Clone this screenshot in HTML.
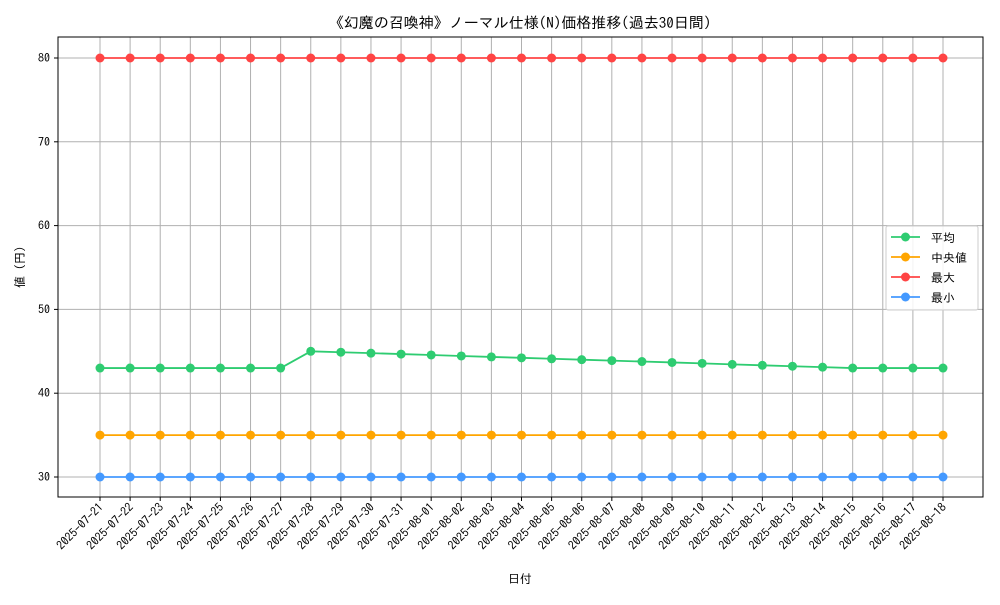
<!DOCTYPE html>
<html><head><meta charset="utf-8">
<style>
body{margin:0;background:#fff;}
svg text{font-family:"IPAGothic","Noto Sans CJK JP",sans-serif;fill:#000;}
</style></head>
<body>
<svg id="chart" width="1000" height="600" viewBox="0 0 1000 600" xmlns="http://www.w3.org/2000/svg">
<rect width="1000" height="600" fill="#fff"/>
<text x="520" y="28" font-size="15" text-anchor="middle">《幻魔の召喚神》ノーマル仕様(N)価格推移(過去30日間)</text>
<g id="grid"></g>
<g id="xticks"></g>
<g id="yticks"></g>
<g id="series"></g>
<rect x="58" y="37" width="925" height="460" fill="none" stroke="#000" stroke-width="1"/>
<text x="520" y="583" font-size="12" text-anchor="middle">日付</text>
<text x="0" y="0" font-size="12" text-anchor="middle" transform="translate(24,267) rotate(-90)">値 (円)</text>
<g id="legend"></g>
</svg>
<script>
const dates=["2025-07-21","2025-07-22","2025-07-23","2025-07-24","2025-07-25","2025-07-26","2025-07-27","2025-07-28","2025-07-29","2025-07-30","2025-07-31","2025-08-01","2025-08-02","2025-08-03","2025-08-04","2025-08-05","2025-08-06","2025-08-07","2025-08-08","2025-08-09","2025-08-10","2025-08-11","2025-08-12","2025-08-13","2025-08-14","2025-08-15","2025-08-16","2025-08-17","2025-08-18"];
const avgValues=[43,43,43,43,43,43,43,45,44.89,44.78,44.67,44.56,44.44,44.33,44.22,44.11,44.0,43.89,43.78,43.67,43.56,43.44,43.33,43.22,43.11,43,43,43,43];
const medianValues=[35,35,35,35,35,35,35,35,35,35,35,35,35,35,35,35,35,35,35,35,35,35,35,35,35,35,35,35,35];
const maxValues=[80,80,80,80,80,80,80,80,80,80,80,80,80,80,80,80,80,80,80,80,80,80,80,80,80,80,80,80,80];
const minValues=[30,30,30,30,30,30,30,30,30,30,30,30,30,30,30,30,30,30,30,30,30,30,30,30,30,30,30,30,30];
const yTicks=[30,40,50,60,70,80];
const NS="http://www.w3.org/2000/svg";
function xs(i){return 100+i*(943-100)/(dates.length-1);}
function ys(v){return 477-(v-30)*(477-58)/50;}
function mk(tag,attrs,parent){const e=document.createElementNS(NS,tag);for(const k in attrs)e.setAttribute(k,attrs[k]);parent.appendChild(e);return e;}
const grid=document.getElementById('grid'),xt=document.getElementById('xticks'),yt=document.getElementById('yticks'),sg=document.getElementById('series'),lg=document.getElementById('legend');
dates.forEach((d,i)=>{
  const x=xs(i);
  const gl=mk('line',{x1:x,x2:x,y1:37,y2:497,stroke:'#b0b0b0','stroke-width':1},grid);
  
  
  mk('line',{x1:x,x2:x,y1:497,y2:501,stroke:'#000'},xt);
  const t=mk('text',{'font-size':12,'text-anchor':'end',transform:`translate(${x+4},${508}) rotate(-45)`},xt);
  
  
  t.textContent=d;
});
yTicks.forEach(v=>{
  const y=ys(v);
  const gl=mk('line',{x1:58,x2:983,y1:y,y2:y,stroke:'#b0b0b0','stroke-width':1},grid);
  
  
  mk('line',{x1:54,x2:58,y1:y,y2:y,stroke:'#000'},yt);
  const t=mk('text',{x:50,y:y+4,'font-size':12,'text-anchor':'end'},yt);
  
  
  t.textContent=v;
});
const series=[["avg",avgValues,"#2ecc71","平均"],["median",medianValues,"#ffa500","中央値"],["max",maxValues,"#ff4444","最大"],["min",minValues,"#4499ff","最小"]];
series.forEach(([key,vals,col])=>{
  const pl=mk('polyline',{points:vals.map((v,i)=>xs(i)+','+ys(v)).join(' '),fill:'none',stroke:col,'stroke-width':1.8},sg);
  
  
  vals.forEach((v,i)=>{
    const c=mk('circle',{cx:xs(i),cy:ys(v),r:4.5,fill:col},sg);
    
    
  });
});
const box=mk('rect',{x:886,y:226,width:92,height:84,fill:'#fff','fill-opacity':0.85,stroke:'#ccc',rx:2},lg);


series.forEach(([key,vals,col,label],k)=>{
  const y=237+k*20;
  const g=mk('g',{},lg);
  
  
  mk('line',{x1:891,x2:920,y1:y,y2:y,stroke:col,'stroke-width':1.8},g);
  mk('circle',{cx:905.5,cy:y,r:4.5,fill:col},g);
  const t=mk('text',{x:931,y:y+5,'font-size':12},g);
  t.textContent=label;
});
</script>
</body></html>
